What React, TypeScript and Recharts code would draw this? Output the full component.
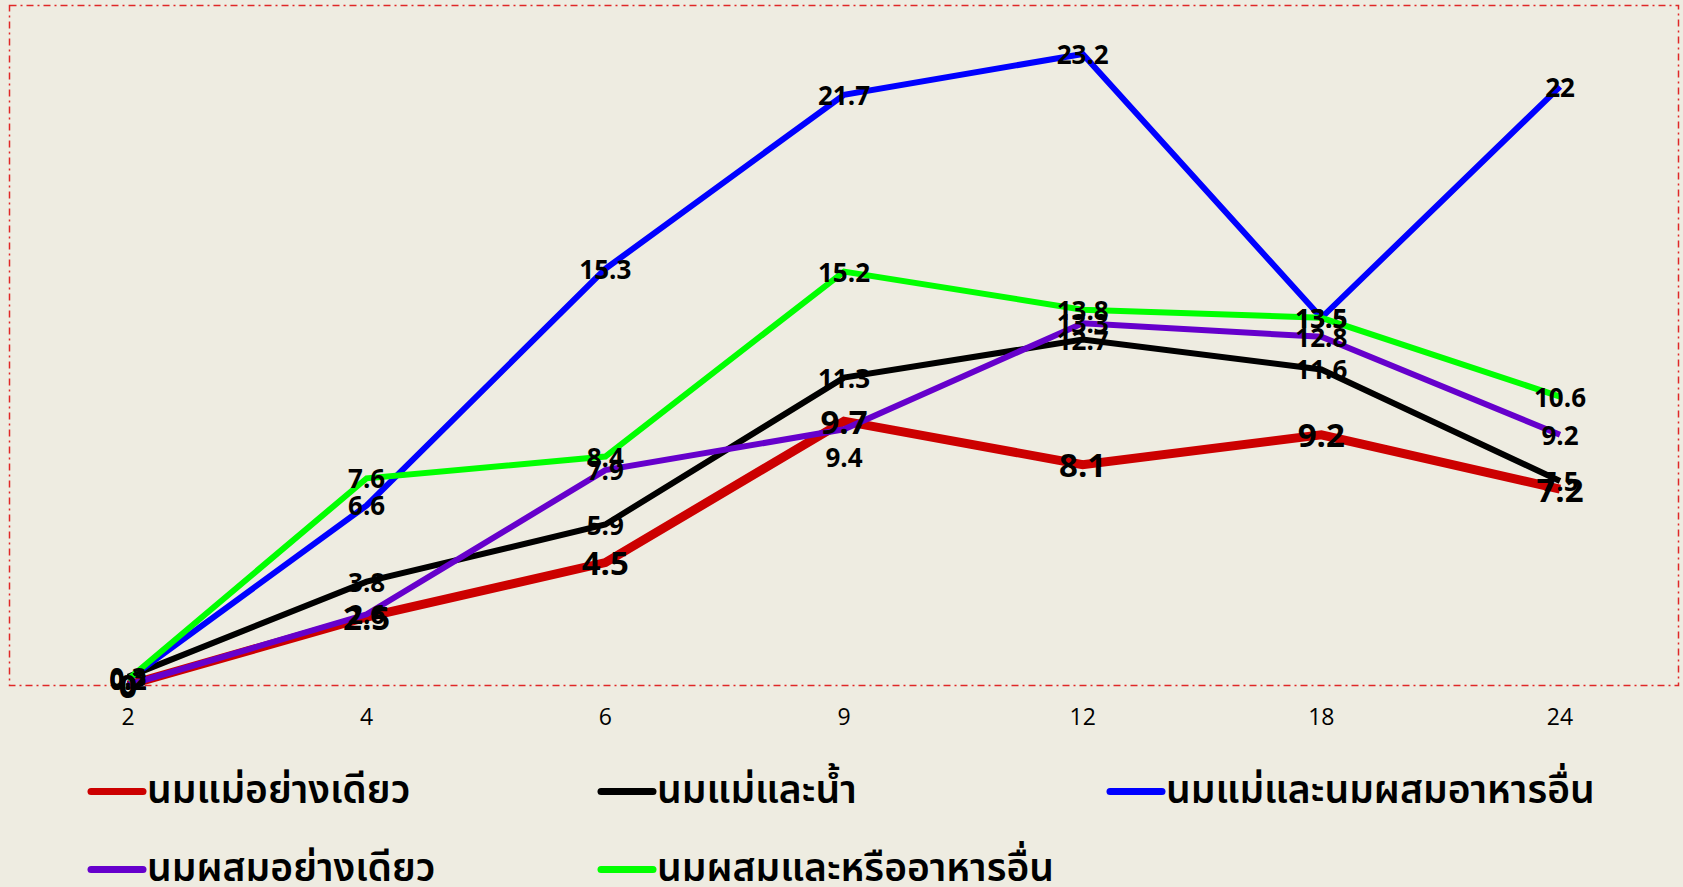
import { LineChart, Line, XAxis, YAxis, Legend } from 'recharts';

const months = ['2', '4', '6', '9', '12', '18', '24'];
const breastOnly = [0, 2.5, 4.5, 9.7, 8.1, 9.2, 7.2];
const breastWater = [0.3, 3.8, 5.9, 11.3, 12.7, 11.6, 7.5];
const breastMixFood = [0.2, 6.6, 15.3, 21.7, 23.2, 13.5, 22];
const formulaOnly = [0, 2.6, 7.9, 9.4, 13.3, 12.8, 9.2];
const formulaFood = [0.2, 7.6, 8.4, 15.2, 13.8, 13.5, 10.6];

const seriesNames = [
  'นมแม่อย่างเดียว',
  'นมแม่และน้ำ',
  'นมแม่และนมผสมอาหารอื่น',
  'นมผสมอย่างเดียว',
  'นมผสมและหรืออาหารอื่น',
];

const data = months.map((m, i) => ({
  month: m,
  breastOnly: breastOnly[i],
  breastWater: breastWater[i],
  breastMixFood: breastMixFood[i],
  formulaOnly: formulaOnly[i],
  formulaFood: formulaFood[i],
}));

const BG = '#EEECE1';
const NUM_FONT = '"Open Sans", "Noto Sans", sans-serif';
const THAI_FONT = '"Noto Sans Thai", "Noto Sans Thai Looped", "Noto Sans", "DejaVu Sans", sans-serif';

function makeLabel(fontSize: number, dyByIndex: Record<number, number> = {}) {
  return (props: any) => {
    const { x, y, value, index } = props;
    return (
      <text
        x={x}
        y={y}
        dy={dyByIndex[index] ?? 0}
        textAnchor="middle"
        dominantBaseline="central"
        fill="#000"
        fontFamily={NUM_FONT}
        fontWeight={700}
        fontSize={fontSize}
      >
        {value}
      </text>
    );
  };
}

// legend slots: 3 columns, 2 rows
const legendCols = [76, 586, 1095];
const legendRows = [54, 132];

function renderLegend(props: any) {
  const payload = [...(props.payload || [])].sort(
    (a: any, b: any) => seriesNames.indexOf(a.value) - seriesNames.indexOf(b.value)
  );
  return (
    <div style={{ position: 'relative', width: 1683, height: 150 }}>
      {payload.map((p: any, i: number) => (
        <div
          key={i}
          style={{
            position: 'absolute',
            left: legendCols[i % 3],
            top: legendRows[Math.floor(i / 3)],
            transform: 'translateY(-50%)',
            display: 'flex',
            alignItems: 'center',
            whiteSpace: 'nowrap',
          }}
        >
          <svg width={62} height={12}>
            <line x1={6} y1={6} x2={58} y2={6} stroke={p.color} strokeWidth={7} strokeLinecap="round" />
          </svg>
          <span style={{ fontFamily: THAI_FONT, fontWeight: 600, fontSize: 39, color: '#000', lineHeight: 1 }}>
            {p.value}
          </span>
        </div>
      ))}
    </div>
  );
}

export default function App() {
  return (
    <div style={{ position: 'relative', width: 1683, height: 887, background: BG, overflow: 'hidden' }}>
      <style>{`body{margin:0;background:${BG};}`}</style>
      <svg width={1683} height={887} style={{ position: 'absolute', left: 0, top: 0 }}>
        <rect
          x={9.5}
          y={5.5}
          width={1669}
          height={680}
          fill="none"
          stroke="#E02828"
          strokeWidth={1.5}
          strokeDasharray="7 4 2 4"
        />
      </svg>
      <div style={{ position: 'absolute', left: 0, top: 0 }}>
        <LineChart width={1683} height={887} data={data} margin={{ top: 5, right: 4, left: 9, bottom: 0 }}>
          <XAxis
            dataKey="month"
            padding={{ left: 119, right: 119 }}
            axisLine={false}
            tickLine={false}
            tickSize={0}
            tickMargin={24}
            height={52}
            tick={{ fill: '#000', fontSize: 23, fontFamily: NUM_FONT }}
          />
          <YAxis hide domain={[0, 25]} />
          <Legend verticalAlign="bottom" height={150} content={renderLegend} />
          <Line
            dataKey="breastOnly"
            name={seriesNames[0]}
            stroke="#CC0000"
            strokeWidth={9}
            dot={false}
            isAnimationActive={false}
            label={makeLabel(33)}
          />
          <Line
            dataKey="breastWater"
            name={seriesNames[1]}
            stroke="#000000"
            strokeWidth={6}
            dot={false}
            isAnimationActive={false}
            label={makeLabel(26)}
          />
          <Line
            dataKey="breastMixFood"
            name={seriesNames[2]}
            stroke="#0000FF"
            strokeWidth={6}
            dot={false}
            isAnimationActive={false}
            label={makeLabel(26)}
          />
          <Line
            dataKey="formulaOnly"
            name={seriesNames[3]}
            stroke="#6600CC"
            strokeWidth={6}
            dot={false}
            isAnimationActive={false}
            label={makeLabel(26, { 3: 28 })}
          />
          <Line
            dataKey="formulaFood"
            name={seriesNames[4]}
            stroke="#00FF00"
            strokeWidth={6}
            dot={false}
            isAnimationActive={false}
            label={makeLabel(26)}
          />
        </LineChart>
      </div>
    </div>
  );
}
